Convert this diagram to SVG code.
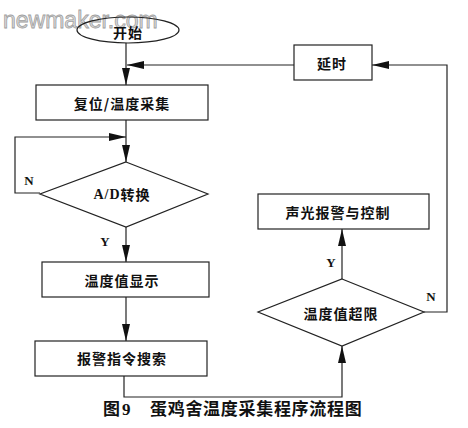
<svg xmlns="http://www.w3.org/2000/svg" width="468" height="428" viewBox="0 0 468 428">
<style>
.box{fill:#fff;stroke:#222;stroke-width:1.2}
.cn{font-family:"Noto Sans CJK SC","Liberation Serif",serif;font-size:14px;font-weight:bold;fill:#111;text-anchor:middle;dominant-baseline:central;letter-spacing:1px}
.lb{font-family:"Liberation Serif",serif;font-size:13px;font-weight:bold;fill:#111;text-anchor:middle;dominant-baseline:central}
.ln{fill:none;stroke:#222;stroke-width:1.2;marker-end:url(#ah)}
</style>
<defs>
<marker id="ah" markerUnits="userSpaceOnUse" markerWidth="17" markerHeight="9" refX="17" refY="4.5" orient="auto">
<path d="M0,0.5 L17,4.5 L0,8.5 z" fill="#111"/>
</marker>
</defs>
<rect width="468" height="428" fill="#fff"/>
<text x="3" y="28" font-family="Liberation Sans,Arial,sans-serif" font-size="23" fill="#dcdcdc" stroke="#a0a0a0" stroke-width="0.8">newmaker.com</text>
<g id="connectors">
<line class="ln" x1="126" y1="43" x2="126" y2="85"/>
<line class="ln" x1="294" y1="65" x2="127" y2="65"/>
<line class="ln" x1="126" y1="120" x2="126" y2="162"/>
<polyline class="ln" points="40,193 15,193 15,137 126,137"/>
<line class="ln" x1="126" y1="227" x2="126" y2="262"/>
<line class="ln" x1="126" y1="297" x2="126" y2="341"/>
<polyline class="ln" points="124,376 124,397 342,397 342,346"/>
<line class="ln" x1="342" y1="279" x2="342" y2="229"/>
<polyline class="ln" points="424,312 447,312 447,65 372,65"/>
<text class="lb" x="29" y="180">N</text>
<text class="lb" x="105" y="241">Y</text>
<text class="lb" x="331" y="262">Y</text>
<text class="lb" x="431" y="296">N</text>
</g>
<g id="start">
<ellipse class="box" cx="128" cy="30" rx="51" ry="13" fill="none" style="fill:none"/>
<text class="cn" x="128" y="32">开始</text>
</g>
<g id="reset">
<rect class="box" x="36" y="85" width="172" height="35"/>
<text class="cn" x="122" y="103">复位/温度采集</text>
</g>
<g id="adconv">
<polygon class="box" points="126,162 208,194 126,227 40,194"/>
<text class="cn" x="122" y="194"><tspan font-family="Liberation Serif,serif">A/D</tspan>转换</text>
</g>
<g id="display">
<rect class="box" x="42" y="262" width="167" height="35"/>
<text class="cn" x="122" y="280">温度值显示</text>
</g>
<g id="search">
<rect class="box" x="35" y="341" width="172" height="35"/>
<text class="cn" x="122" y="358">报警指令搜索</text>
</g>
<g id="overlimit">
<polygon class="box" points="342,279 424,312 342,346 258,312"/>
<text class="cn" x="341" y="313">温度值超限</text>
</g>
<g id="alarm">
<rect class="box" x="258" y="194" width="171" height="35"/>
<text class="cn" x="338" y="212">声光报警与控制</text>
</g>
<g id="delay">
<rect class="box" x="294" y="45" width="78" height="35"/>
<text class="cn" x="332" y="63">延时</text>
</g>
<text x="103" y="415" font-family="Noto Sans CJK SC,sans-serif" font-size="17" font-weight="bold" fill="#111">图<tspan font-family="Liberation Serif,serif" dx="2">9</tspan><tspan x="150" letter-spacing="0.7">蛋鸡舍温度采集程序流程图</tspan></text>
</svg>
